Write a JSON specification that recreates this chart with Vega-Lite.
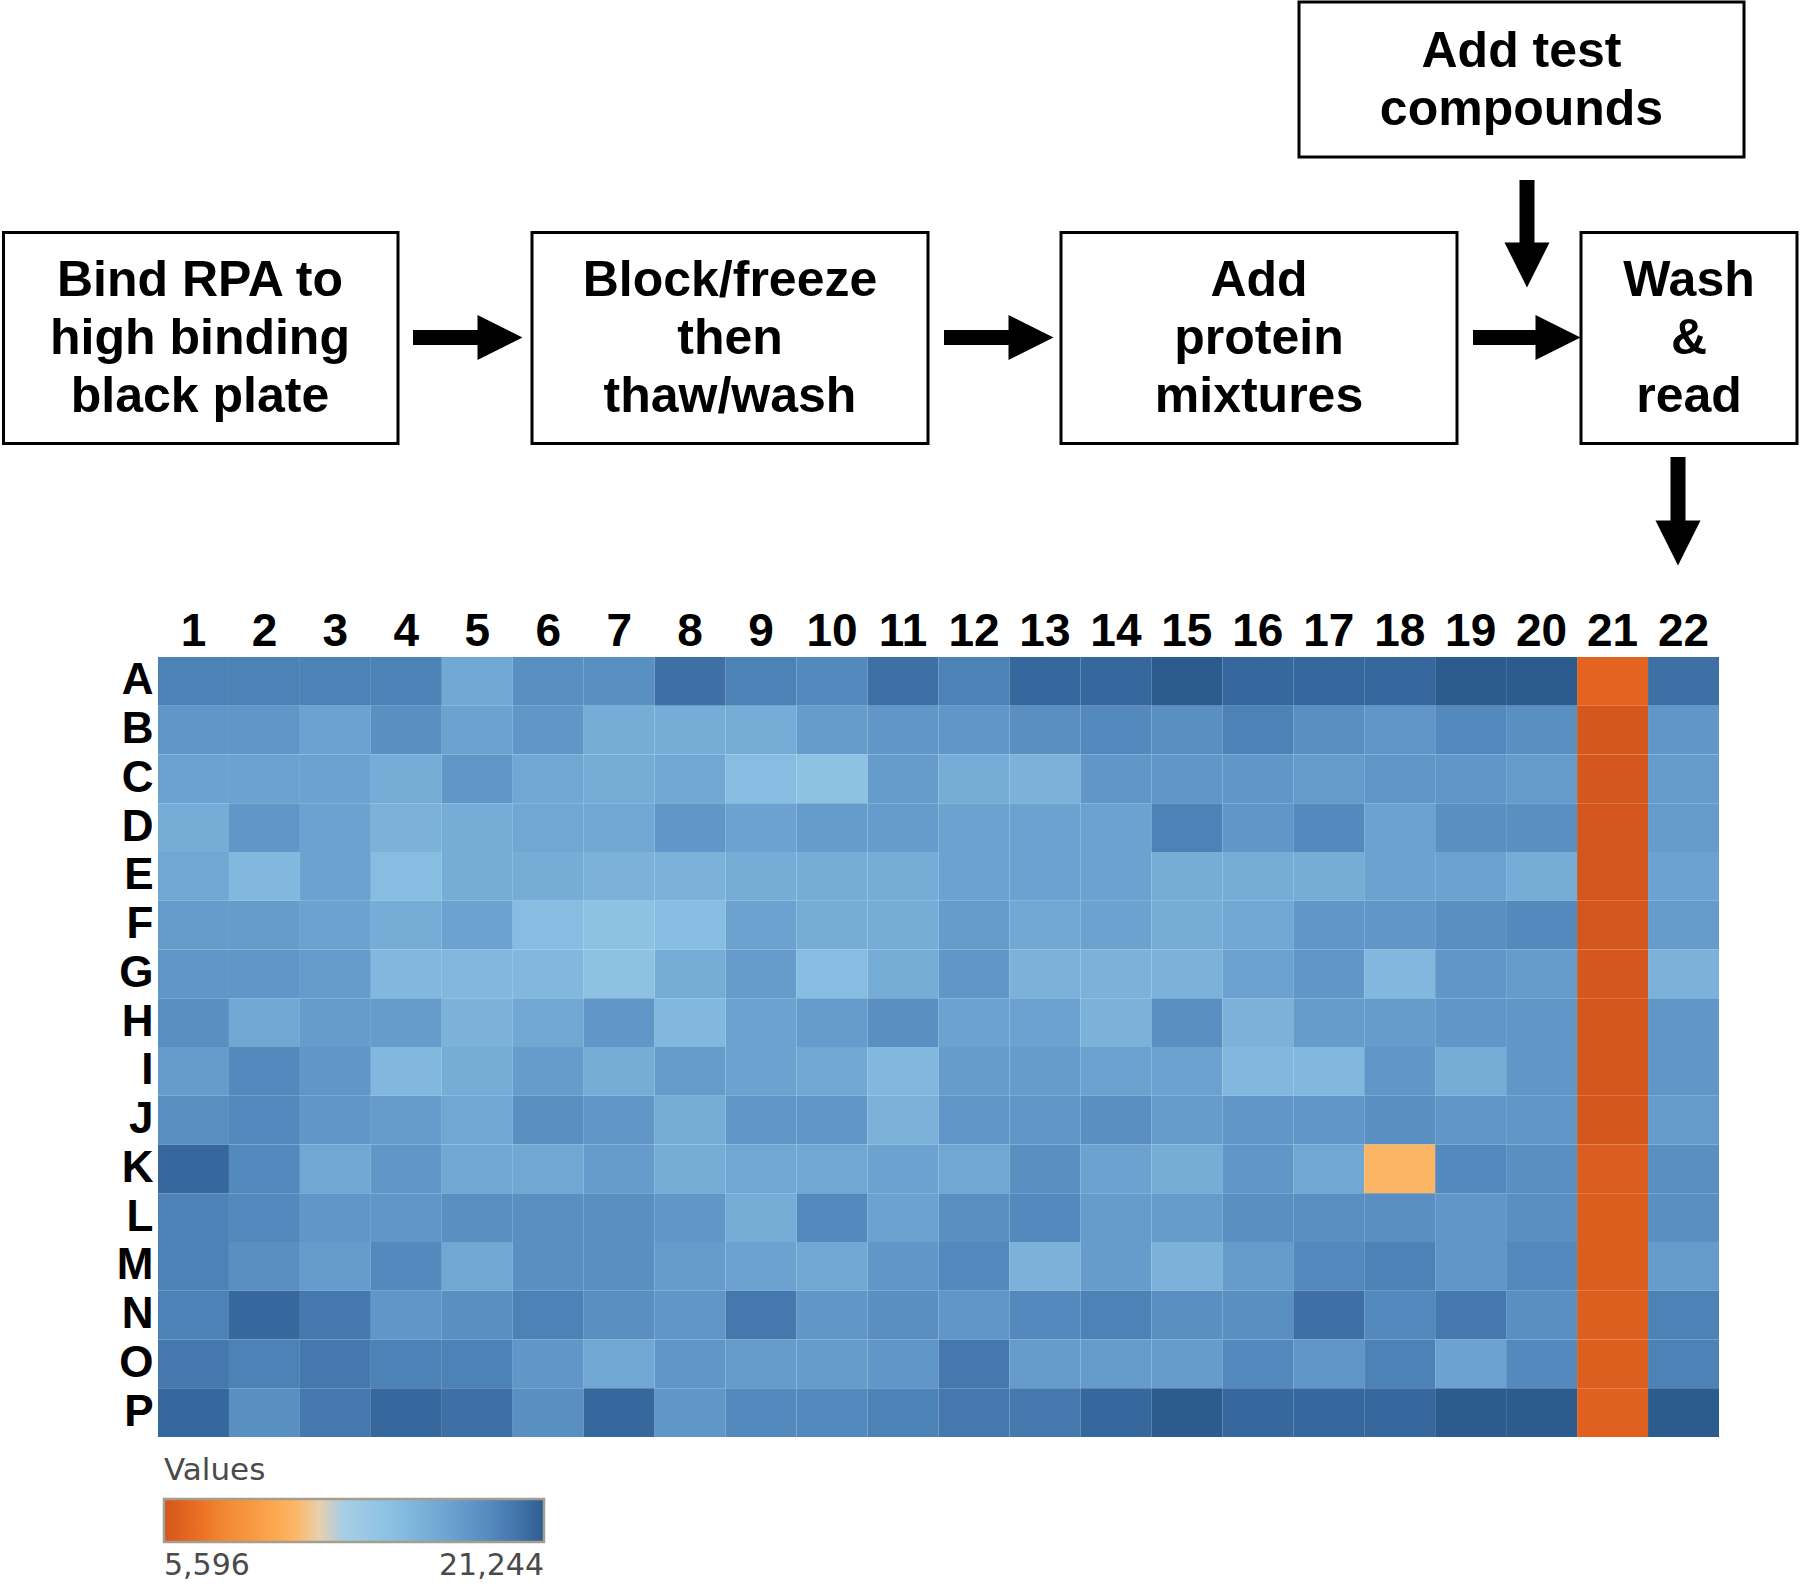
{
  "$schema": "https://vega.github.io/schema/vega-lite/v6.json",
  "padding": {"left": 2, "top": 0, "right": 0, "bottom": 0},
  "bounds": "flush",
  "spacing": 57,
  "config": {"view": {"stroke": null}},
  "vconcat": [
    {
      "width": 1642,
      "height": 600,
      "layer": [
        {
          "data": {"values": [
            {"x0": 3.5, "x1": 398, "y0": 232.5, "y1": 443.5},
            {"x0": 532, "x1": 928, "y0": 232.5, "y1": 443.5},
            {"x0": 1061, "x1": 1457, "y0": 232.5, "y1": 443.5},
            {"x0": 1581, "x1": 1797, "y0": 232.5, "y1": 443.5},
            {"x0": 1299, "x1": 1744, "y0": 2, "y1": 157}
          ]},
          "mark": {"type": "rect", "fill": "white", "stroke": "black", "strokeWidth": 3},
          "encoding": {
            "x": {"field": "x0", "type": "quantitative", "scale": {"domain": [158, 1800], "nice": false, "zero": false}, "axis": null},
            "x2": {"field": "x1"},
            "y": {"field": "y0", "type": "quantitative", "scale": {"domain": [0, 600], "nice": false, "zero": false, "reverse": true}, "axis": null},
            "y2": {"field": "y1"}
          }
        },
        {
          "data": {"values": [
            {"x": 200, "y": 281, "label": "Bind RPA to\nhigh binding\nblack plate"},
            {"x": 730, "y": 281, "label": "Block/freeze\nthen\nthaw/wash"},
            {"x": 1259, "y": 281, "label": "Add\nprotein\nmixtures"},
            {"x": 1689, "y": 281, "label": "Wash\n&\nread"},
            {"x": 1521.5, "y": 52, "label": "Add test\ncompounds"}
          ]},
          "mark": {"type": "text", "font": "Liberation Sans", "fontWeight": "bold", "fontSize": 50, "lineHeight": 58, "lineBreak": "\n", "align": "center", "baseline": "middle", "color": "black"},
          "encoding": {
            "x": {"field": "x", "type": "quantitative", "scale": {"domain": [158, 1800], "nice": false, "zero": false}, "axis": null},
            "y": {"field": "y", "type": "quantitative", "scale": {"domain": [0, 600], "nice": false, "zero": false, "reverse": true}, "axis": null},
            "text": {"field": "label"}
          }
        },
        {
          "data": {"values": [
            {"x0": 413, "x1": 478, "y0": 337.5, "y1": 337.5},
            {"x0": 944, "x1": 1009, "y0": 337.5, "y1": 337.5},
            {"x0": 1473, "x1": 1536, "y0": 337.5, "y1": 337.5},
            {"x0": 1527, "x1": 1527, "y0": 180, "y1": 243},
            {"x0": 1678, "x1": 1678, "y0": 457, "y1": 521}
          ]},
          "mark": {"type": "rule", "color": "black", "strokeWidth": 15},
          "encoding": {
            "x": {"field": "x0", "type": "quantitative", "scale": {"domain": [158, 1800], "nice": false, "zero": false}, "axis": null},
            "x2": {"field": "x1"},
            "y": {"field": "y0", "type": "quantitative", "scale": {"domain": [0, 600], "nice": false, "zero": false, "reverse": true}, "axis": null},
            "y2": {"field": "y1"}
          }
        },
        {
          "data": {"values": [
            {"x": 500, "y": 337.5, "dir": "right"},
            {"x": 1031, "y": 337.5, "dir": "right"},
            {"x": 1558, "y": 337.5, "dir": "right"},
            {"x": 1527, "y": 265, "dir": "down"},
            {"x": 1678, "y": 543, "dir": "down"}
          ]},
          "mark": {"type": "point", "filled": true, "size": 2025, "fill": "black", "opacity": 1, "strokeWidth": 0},
          "encoding": {
            "x": {"field": "x", "type": "quantitative", "scale": {"domain": [158, 1800], "nice": false, "zero": false}, "axis": null},
            "y": {"field": "y", "type": "quantitative", "scale": {"domain": [0, 600], "nice": false, "zero": false, "reverse": true}, "axis": null},
            "shape": {"field": "dir", "type": "nominal", "scale": {"domain": ["right", "down"], "range": ["M-1,-1L1,0L-1,1Z", "M-1,-1L1,-1L0,1Z"]}, "legend": null}
          }
        }
      ]
    },
    {
      "width": 1561,
      "height": 780,
      "data": {"values": [
{"row":"A","col":1,"value":19532},{"row":"A","col":2,"value":19532},{"row":"A","col":3,"value":19532},{"row":"A","col":4,"value":19532},{"row":"A","col":5,"value":16970},{"row":"A","col":6,"value":18678},{"row":"A","col":7,"value":18678},{"row":"A","col":8,"value":20386},{"row":"A","col":9,"value":19532},{"row":"A","col":10,"value":19105},{"row":"A","col":11,"value":20386},{"row":"A","col":12,"value":19532},{"row":"A","col":13,"value":20813},{"row":"A","col":14,"value":20813},{"row":"A","col":15,"value":21240},{"row":"A","col":16,"value":20813},{"row":"A","col":17,"value":20813},{"row":"A","col":18,"value":20813},{"row":"A","col":19,"value":21244},{"row":"A","col":20,"value":21240},{"row":"A","col":21,"value":6500},{"row":"A","col":22,"value":20386},
{"row":"B","col":1,"value":18251},{"row":"B","col":2,"value":18251},{"row":"B","col":3,"value":17397},{"row":"B","col":4,"value":18678},{"row":"B","col":5,"value":17397},{"row":"B","col":6,"value":18251},{"row":"B","col":7,"value":16543},{"row":"B","col":8,"value":16543},{"row":"B","col":9,"value":16543},{"row":"B","col":10,"value":17824},{"row":"B","col":11,"value":18251},{"row":"B","col":12,"value":18251},{"row":"B","col":13,"value":18678},{"row":"B","col":14,"value":19105},{"row":"B","col":15,"value":18678},{"row":"B","col":16,"value":19532},{"row":"B","col":17,"value":18678},{"row":"B","col":18,"value":18251},{"row":"B","col":19,"value":19105},{"row":"B","col":20,"value":18678},{"row":"B","col":21,"value":5700},{"row":"B","col":22,"value":18251},
{"row":"C","col":1,"value":17397},{"row":"C","col":2,"value":17397},{"row":"C","col":3,"value":17397},{"row":"C","col":4,"value":16543},{"row":"C","col":5,"value":18251},{"row":"C","col":6,"value":16970},{"row":"C","col":7,"value":16543},{"row":"C","col":8,"value":16970},{"row":"C","col":9,"value":15262},{"row":"C","col":10,"value":14835},{"row":"C","col":11,"value":17824},{"row":"C","col":12,"value":16543},{"row":"C","col":13,"value":16116},{"row":"C","col":14,"value":18251},{"row":"C","col":15,"value":18251},{"row":"C","col":16,"value":18251},{"row":"C","col":17,"value":17824},{"row":"C","col":18,"value":18251},{"row":"C","col":19,"value":18251},{"row":"C","col":20,"value":17824},{"row":"C","col":21,"value":5650},{"row":"C","col":22,"value":17824},
{"row":"D","col":1,"value":16543},{"row":"D","col":2,"value":18251},{"row":"D","col":3,"value":17397},{"row":"D","col":4,"value":16116},{"row":"D","col":5,"value":16543},{"row":"D","col":6,"value":16970},{"row":"D","col":7,"value":16970},{"row":"D","col":8,"value":18251},{"row":"D","col":9,"value":17397},{"row":"D","col":10,"value":17824},{"row":"D","col":11,"value":17824},{"row":"D","col":12,"value":17397},{"row":"D","col":13,"value":17397},{"row":"D","col":14,"value":17397},{"row":"D","col":15,"value":19532},{"row":"D","col":16,"value":18251},{"row":"D","col":17,"value":19105},{"row":"D","col":18,"value":17397},{"row":"D","col":19,"value":18678},{"row":"D","col":20,"value":18678},{"row":"D","col":21,"value":5620},{"row":"D","col":22,"value":17824},
{"row":"E","col":1,"value":16970},{"row":"E","col":2,"value":15689},{"row":"E","col":3,"value":17397},{"row":"E","col":4,"value":15262},{"row":"E","col":5,"value":16543},{"row":"E","col":6,"value":16543},{"row":"E","col":7,"value":16116},{"row":"E","col":8,"value":16116},{"row":"E","col":9,"value":16543},{"row":"E","col":10,"value":16543},{"row":"E","col":11,"value":16543},{"row":"E","col":12,"value":17397},{"row":"E","col":13,"value":17397},{"row":"E","col":14,"value":17397},{"row":"E","col":15,"value":16543},{"row":"E","col":16,"value":16543},{"row":"E","col":17,"value":16543},{"row":"E","col":18,"value":17397},{"row":"E","col":19,"value":17397},{"row":"E","col":20,"value":16543},{"row":"E","col":21,"value":5596},{"row":"E","col":22,"value":17397},
{"row":"F","col":1,"value":17824},{"row":"F","col":2,"value":17824},{"row":"F","col":3,"value":17397},{"row":"F","col":4,"value":16543},{"row":"F","col":5,"value":17397},{"row":"F","col":6,"value":15262},{"row":"F","col":7,"value":14835},{"row":"F","col":8,"value":15262},{"row":"F","col":9,"value":17397},{"row":"F","col":10,"value":16543},{"row":"F","col":11,"value":16543},{"row":"F","col":12,"value":17824},{"row":"F","col":13,"value":16970},{"row":"F","col":14,"value":17397},{"row":"F","col":15,"value":16543},{"row":"F","col":16,"value":16970},{"row":"F","col":17,"value":18251},{"row":"F","col":18,"value":18251},{"row":"F","col":19,"value":18678},{"row":"F","col":20,"value":19105},{"row":"F","col":21,"value":5620},{"row":"F","col":22,"value":17824},
{"row":"G","col":1,"value":18251},{"row":"G","col":2,"value":18251},{"row":"G","col":3,"value":17824},{"row":"G","col":4,"value":15689},{"row":"G","col":5,"value":15689},{"row":"G","col":6,"value":15689},{"row":"G","col":7,"value":14835},{"row":"G","col":8,"value":16543},{"row":"G","col":9,"value":17824},{"row":"G","col":10,"value":15262},{"row":"G","col":11,"value":16543},{"row":"G","col":12,"value":18251},{"row":"G","col":13,"value":16116},{"row":"G","col":14,"value":16116},{"row":"G","col":15,"value":16116},{"row":"G","col":16,"value":17397},{"row":"G","col":17,"value":18251},{"row":"G","col":18,"value":15689},{"row":"G","col":19,"value":18251},{"row":"G","col":20,"value":17824},{"row":"G","col":21,"value":5650},{"row":"G","col":22,"value":16116},
{"row":"H","col":1,"value":18678},{"row":"H","col":2,"value":16970},{"row":"H","col":3,"value":17824},{"row":"H","col":4,"value":17824},{"row":"H","col":5,"value":16116},{"row":"H","col":6,"value":16970},{"row":"H","col":7,"value":18251},{"row":"H","col":8,"value":15689},{"row":"H","col":9,"value":17397},{"row":"H","col":10,"value":17824},{"row":"H","col":11,"value":18678},{"row":"H","col":12,"value":17397},{"row":"H","col":13,"value":17397},{"row":"H","col":14,"value":16116},{"row":"H","col":15,"value":18678},{"row":"H","col":16,"value":16116},{"row":"H","col":17,"value":17824},{"row":"H","col":18,"value":17824},{"row":"H","col":19,"value":18251},{"row":"H","col":20,"value":18251},{"row":"H","col":21,"value":5700},{"row":"H","col":22,"value":18251},
{"row":"I","col":1,"value":17824},{"row":"I","col":2,"value":19105},{"row":"I","col":3,"value":18251},{"row":"I","col":4,"value":15689},{"row":"I","col":5,"value":16543},{"row":"I","col":6,"value":17824},{"row":"I","col":7,"value":16543},{"row":"I","col":8,"value":17824},{"row":"I","col":9,"value":17397},{"row":"I","col":10,"value":16970},{"row":"I","col":11,"value":15689},{"row":"I","col":12,"value":17824},{"row":"I","col":13,"value":17824},{"row":"I","col":14,"value":17397},{"row":"I","col":15,"value":17397},{"row":"I","col":16,"value":15689},{"row":"I","col":17,"value":15689},{"row":"I","col":18,"value":18251},{"row":"I","col":19,"value":16543},{"row":"I","col":20,"value":18251},{"row":"I","col":21,"value":5700},{"row":"I","col":22,"value":18251},
{"row":"J","col":1,"value":18678},{"row":"J","col":2,"value":19105},{"row":"J","col":3,"value":18251},{"row":"J","col":4,"value":17824},{"row":"J","col":5,"value":16970},{"row":"J","col":6,"value":18678},{"row":"J","col":7,"value":18251},{"row":"J","col":8,"value":16543},{"row":"J","col":9,"value":18251},{"row":"J","col":10,"value":18251},{"row":"J","col":11,"value":16116},{"row":"J","col":12,"value":18251},{"row":"J","col":13,"value":18251},{"row":"J","col":14,"value":18678},{"row":"J","col":15,"value":17824},{"row":"J","col":16,"value":18251},{"row":"J","col":17,"value":18251},{"row":"J","col":18,"value":18678},{"row":"J","col":19,"value":18251},{"row":"J","col":20,"value":18251},{"row":"J","col":21,"value":5680},{"row":"J","col":22,"value":17824},
{"row":"K","col":1,"value":20813},{"row":"K","col":2,"value":19105},{"row":"K","col":3,"value":16970},{"row":"K","col":4,"value":18251},{"row":"K","col":5,"value":16970},{"row":"K","col":6,"value":16970},{"row":"K","col":7,"value":17824},{"row":"K","col":8,"value":16543},{"row":"K","col":9,"value":16970},{"row":"K","col":10,"value":16970},{"row":"K","col":11,"value":17397},{"row":"K","col":12,"value":16970},{"row":"K","col":13,"value":18678},{"row":"K","col":14,"value":17397},{"row":"K","col":15,"value":16543},{"row":"K","col":16,"value":18251},{"row":"K","col":17,"value":16970},{"row":"K","col":18,"value":10900},{"row":"K","col":19,"value":19105},{"row":"K","col":20,"value":18678},{"row":"K","col":21,"value":6050},{"row":"K","col":22,"value":18678},
{"row":"L","col":1,"value":19532},{"row":"L","col":2,"value":19105},{"row":"L","col":3,"value":18251},{"row":"L","col":4,"value":18251},{"row":"L","col":5,"value":18678},{"row":"L","col":6,"value":18678},{"row":"L","col":7,"value":18678},{"row":"L","col":8,"value":18251},{"row":"L","col":9,"value":16543},{"row":"L","col":10,"value":19105},{"row":"L","col":11,"value":17397},{"row":"L","col":12,"value":18678},{"row":"L","col":13,"value":19105},{"row":"L","col":14,"value":17824},{"row":"L","col":15,"value":17824},{"row":"L","col":16,"value":18678},{"row":"L","col":17,"value":18678},{"row":"L","col":18,"value":18678},{"row":"L","col":19,"value":18251},{"row":"L","col":20,"value":18678},{"row":"L","col":21,"value":6100},{"row":"L","col":22,"value":18678},
{"row":"M","col":1,"value":19532},{"row":"M","col":2,"value":18678},{"row":"M","col":3,"value":17824},{"row":"M","col":4,"value":19105},{"row":"M","col":5,"value":16970},{"row":"M","col":6,"value":18678},{"row":"M","col":7,"value":18678},{"row":"M","col":8,"value":17824},{"row":"M","col":9,"value":17397},{"row":"M","col":10,"value":16970},{"row":"M","col":11,"value":18251},{"row":"M","col":12,"value":19105},{"row":"M","col":13,"value":16116},{"row":"M","col":14,"value":17824},{"row":"M","col":15,"value":16116},{"row":"M","col":16,"value":17824},{"row":"M","col":17,"value":19105},{"row":"M","col":18,"value":19532},{"row":"M","col":19,"value":18251},{"row":"M","col":20,"value":19105},{"row":"M","col":21,"value":6100},{"row":"M","col":22,"value":17824},
{"row":"N","col":1,"value":19532},{"row":"N","col":2,"value":20813},{"row":"N","col":3,"value":19959},{"row":"N","col":4,"value":18251},{"row":"N","col":5,"value":18678},{"row":"N","col":6,"value":19532},{"row":"N","col":7,"value":18678},{"row":"N","col":8,"value":18251},{"row":"N","col":9,"value":19959},{"row":"N","col":10,"value":18251},{"row":"N","col":11,"value":18678},{"row":"N","col":12,"value":18251},{"row":"N","col":13,"value":19105},{"row":"N","col":14,"value":19532},{"row":"N","col":15,"value":18678},{"row":"N","col":16,"value":18678},{"row":"N","col":17,"value":20386},{"row":"N","col":18,"value":19105},{"row":"N","col":19,"value":19959},{"row":"N","col":20,"value":18678},{"row":"N","col":21,"value":6150},{"row":"N","col":22,"value":19532},
{"row":"O","col":1,"value":19959},{"row":"O","col":2,"value":19532},{"row":"O","col":3,"value":19959},{"row":"O","col":4,"value":19532},{"row":"O","col":5,"value":19532},{"row":"O","col":6,"value":18251},{"row":"O","col":7,"value":16970},{"row":"O","col":8,"value":18251},{"row":"O","col":9,"value":17824},{"row":"O","col":10,"value":17824},{"row":"O","col":11,"value":18251},{"row":"O","col":12,"value":19959},{"row":"O","col":13,"value":17824},{"row":"O","col":14,"value":17824},{"row":"O","col":15,"value":17824},{"row":"O","col":16,"value":19105},{"row":"O","col":17,"value":18251},{"row":"O","col":18,"value":19532},{"row":"O","col":19,"value":17397},{"row":"O","col":20,"value":19105},{"row":"O","col":21,"value":6150},{"row":"O","col":22,"value":19532},
{"row":"P","col":1,"value":20813},{"row":"P","col":2,"value":18678},{"row":"P","col":3,"value":19959},{"row":"P","col":4,"value":20813},{"row":"P","col":5,"value":20386},{"row":"P","col":6,"value":18678},{"row":"P","col":7,"value":20813},{"row":"P","col":8,"value":18251},{"row":"P","col":9,"value":19105},{"row":"P","col":10,"value":19105},{"row":"P","col":11,"value":19532},{"row":"P","col":12,"value":19959},{"row":"P","col":13,"value":19959},{"row":"P","col":14,"value":20813},{"row":"P","col":15,"value":21240},{"row":"P","col":16,"value":20813},{"row":"P","col":17,"value":20813},{"row":"P","col":18,"value":20813},{"row":"P","col":19,"value":21240},{"row":"P","col":20,"value":21240},{"row":"P","col":21,"value":6300},{"row":"P","col":22,"value":21240}
      ]},
      "mark": {"type": "rect", "strokeWidth": 0},
      "encoding": {
        "x": {"field": "col", "type": "ordinal", "scale": {"paddingInner": 0, "paddingOuter": 0},
              "axis": {"orient": "top", "title": null, "domain": false, "ticks": false, "labelAngle": 0, "labelFont": "Liberation Sans", "labelFontWeight": "bold", "labelFontSize": 46, "labelColor": "black", "labelPadding": 2}},
        "y": {"field": "row", "type": "ordinal", "scale": {"paddingInner": 0, "paddingOuter": 0},
              "axis": {"title": null, "domain": false, "ticks": false, "labelFont": "Liberation Sans", "labelFontWeight": "bold", "labelFontSize": 44, "labelColor": "black", "labelPadding": 5}},
        "color": {"field": "value", "type": "quantitative",
          "scale": {"type": "linear", "interpolate": "rgb",
            "domain": [5596, 6500, 8000, 10000, 11000, 11700, 12150, 12700, 14835, 16543, 18251, 19532, 20813, 21244],
            "range": ["#d2561e", "#e4641f", "#f28630", "#fba64d", "#fcb766", "#fdc47d", "#dcd6c7", "#aad0e5", "#8dc2e3", "#76add7", "#6096c8", "#4d82b6", "#36679d", "#2c5b8d"]},
          "legend": {"title": "Values", "orient": "none", "legendX": 6, "legendY": 1456, "direction": "horizontal",
            "gradientLength": 380, "gradientThickness": 43, "gradientStrokeColor": "#a39e8e", "gradientStrokeWidth": 2.5,
            "values": [5596, 21244], "labelExpr": "format(datum.value, ',')",
            "titleFont": "DejaVu Sans", "titleFontSize": 31, "titleFontWeight": "normal", "titleColor": "#4a4a4a", "titlePadding": 12,
            "labelFont": "DejaVu Sans", "labelFontSize": 30, "labelColor": "#4a4a4a", "labelOffset": 9}}
      }
    }
  ]
}
